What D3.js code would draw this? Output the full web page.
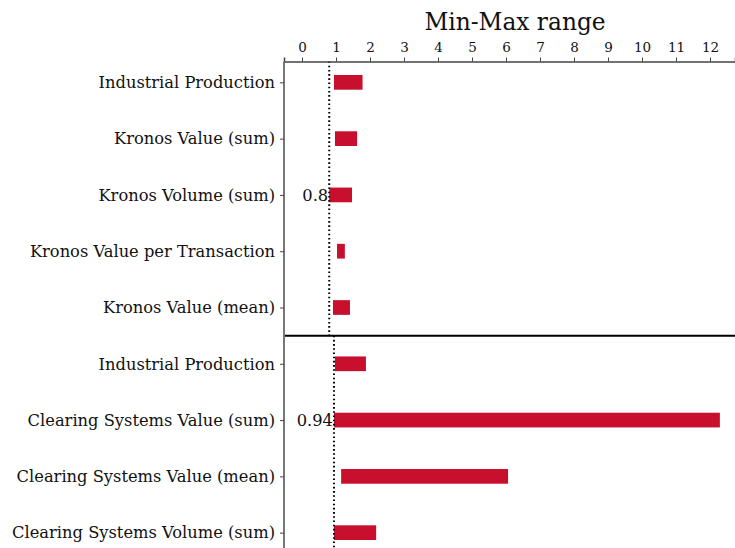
<!DOCTYPE html>
<html lang="en">
<head>
<meta charset="UTF-8">
<title>Min-Max range</title>
<script src="https://d3js.org/d3.v7.min.js"></script>
<style>
    body { margin: 0; background: #fff; }
    svg text { font-family: 'DejaVu Serif', 'Liberation Serif', serif; fill: #111; }
</style>
</head>
<body>
<svg width="735" height="548"></svg>
<script>
// one entry per row, top to bottom
const labels = [
    "Industrial Production",
    "Kronos Value (sum)",
    "Kronos Volume (sum)",
    "Kronos Value per Transaction",
    "Kronos Value (mean)",
    "Industrial Production",
    "Clearing Systems Value (sum)",
    "Clearing Systems Value (mean)",
    "Clearing Systems Volume (sum)"
];
const mins = [0.94, 0.97, 0.80, 1.03, 0.91, 0.97, 0.94, 1.15, 0.94];
const maxs = [1.78, 1.62, 1.47, 1.26, 1.41, 1.88, 12.29, 6.06, 2.18];
const groups = [0, 0, 0, 0, 0, 1, 1, 1, 1];
const thresholds = [0.8, 0.94];
const thresholdLabels = ["0.8", "0.94"];
const xTicks = d3.range(0, 13);

const svg = d3.select("svg");
const plotLeft = 284, plotRight = 735, plotTop = 61.5, plotBottom = 560;

const x = d3.scaleLinear().domain([-0.53, 12.735]).range([plotLeft, plotRight]);
const y = d3.scalePoint()
    .domain(d3.range(labels.length))
    .range([54.2, 560.8])
    .padding(0.5);
const barH = 14.7;

// bars
svg.append("g").selectAll("rect")
    .data(labels.map((l, i) => i))
    .join("rect")
    .attr("x", i => x(mins[i]))
    .attr("width", i => x(maxs[i]) - x(mins[i]))
    .attr("y", i => y(i) - barH / 2)
    .attr("height", barH)
    .attr("fill", "#c8102e");

// group separator
const sep = (y(4) + y(5)) / 2;
svg.append("line")
    .attr("x1", plotLeft).attr("x2", plotRight)
    .attr("y1", sep).attr("y2", sep)
    .attr("stroke", "#000").attr("stroke-width", 2);

// dotted threshold lines + labels
thresholds.forEach((t, g) => {
    const y0 = g === 0 ? plotTop : sep;
    const y1 = g === 0 ? sep : plotBottom;
    svg.append("line")
        .attr("x1", x(t)).attr("x2", x(t))
        .attr("y1", y0).attr("y2", y1)
        .attr("stroke", "#000").attr("stroke-width", 2)
        .attr("stroke-dasharray", "1.6,2.6");
    // label sits on the row whose minimum defines the threshold
    const rows = d3.range(labels.length).filter(i => groups[i] === g);
    const r = rows.reduce((a, b) => mins[b] < mins[a] ? b : a);
    svg.append("text")
        .attr("x", x(t) - 1)
        .attr("y", y(r))
        .attr("dy", "0.35em")
        .attr("text-anchor", "end")
        .style("font-size", "16.3px")
        .text(thresholdLabels[g]);
});

// top axis
const xAxis = svg.append("g")
    .attr("transform", `translate(0,${plotTop})`)
    .call(d3.axisTop(x).tickValues(xTicks).tickSize(4).tickPadding(6));
xAxis.select(".domain").attr("stroke", "#444").attr("stroke-width", 1.5);
xAxis.selectAll(".tick line").attr("stroke", "#444");
xAxis.selectAll("text").style("font-size", "13.5px").attr("fill", "#111");

// left axis
const yAxis = svg.append("g")
    .attr("transform", `translate(${plotLeft},0)`)
    .call(d3.axisLeft(y).tickFormat(i => labels[i]).tickSize(4).tickPadding(5));
yAxis.select(".domain").attr("d", `M0,${plotTop}V${plotBottom}`)
    .attr("stroke", "#777").attr("stroke-width", 2);
yAxis.selectAll(".tick line").attr("stroke", "#444");
yAxis.selectAll("text").style("font-size", "16.3px").attr("fill", "#111");

// title
svg.append("text")
    .attr("x", 515)
    .attr("y", 30)
    .attr("text-anchor", "middle")
    .style("font-size", "23.3px")
    .text("Min-Max range");
</script>
</body>
</html>
